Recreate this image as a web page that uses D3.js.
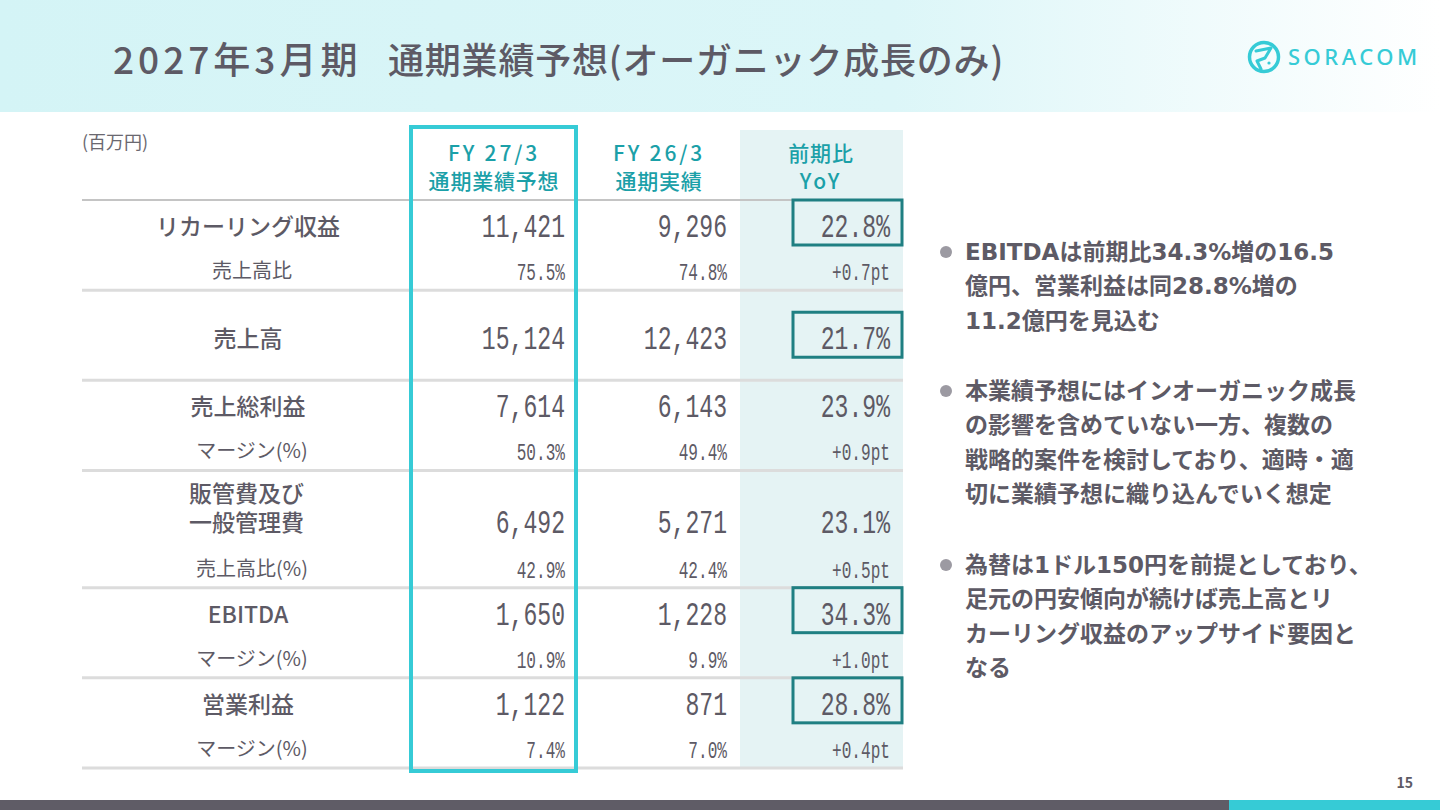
<!DOCTYPE html>
<html lang="ja">
<head>
<meta charset="utf-8">
<title>2027年3月期 通期業績予想</title>
<script src="https://cdn.jsdelivr.net/npm/d3@7"></script>
<style>
  body { margin: 0; background: #fff; }
  svg { display: block; }
  .jp { font-family: "Noto Sans CJK JP", "Noto Sans", sans-serif; }
  .mix { font-family: "DejaVu Sans", "Noto Sans CJK JP", sans-serif; }
  .num { font-family: "Liberation Mono", "DejaVu Sans Mono", monospace; }
</style>
</head>
<body>
<div id="wrapper"></div>
<script>
// table data
const rowLabels = [["リカーリング収益"], ["売上高"], ["売上総利益"], ["販管費及び", "一般管理費"], ["EBITDA"], ["営業利益"]];
const subLabels = ["売上高比", null, "マージン(%)", "売上高比(%)", "マージン(%)", "マージン(%)"];
const fy27 = [11421, 15124, 7614, 6492, 1650, 1122];
const fy26 = [9296, 12423, 6143, 5271, 1228, 871];
const yoy = [22.8, 21.7, 23.9, 23.1, 34.3, 28.8];
const fy27Ratio = [75.5, null, 50.3, 42.9, 10.9, 7.4];
const fy26Ratio = [74.8, null, 49.4, 42.4, 9.9, 7.0];
const ratioDiff = [0.7, null, 0.9, 0.5, 1.0, 0.4];
const highlighted = [true, true, false, false, true, true];

const columnHeaders = [["FY 27/3", "通期業績予想"], ["FY 26/3", "通期実績"], ["前期比", "YoY"]];

const bullets = [
    ["EBITDAは前期比34.3%増の16.5", "億円、営業利益は同28.8%増の", "11.2億円を見込む"],
    ["本業績予想にはインオーガニック成長", "の影響を含めていない一方、複数の", "戦略的案件を検討しており、適時・適", "切に業績予想に織り込んでいく想定"],
    ["為替は1ドル150円を前提としており、", "足元の円安傾向が続けば売上高とリ", "カーリング収益のアップサイド要因と", "なる"]
];

const titleLead = "2027年3月期";
const titleMain = "通期業績予想(オーガニック成長のみ)";

// layout
const width = 1440, height = 810;
const grey = "#5d5a65";
const teal = "#1ba0a8";
const cyan = "#36cbd6";
const rowSpan = [1, 1, 1, 1.3, 1, 1]; // the SG&A row holds a two-line label

const svg = d3.select("#wrapper").append("svg")
    .attr("width", width)
    .attr("height", height);

// header band
const defs = svg.append("defs");
const grad = defs.append("linearGradient").attr("id", "band");
grad.append("stop").attr("offset", "0%").attr("stop-color", "#d4f4f6");
grad.append("stop").attr("offset", "62%").attr("stop-color", "#dcf6f8");
grad.append("stop").attr("offset", "100%").attr("stop-color", "#ffffff");
svg.append("rect").attr("width", width).attr("height", 112).attr("fill", "url(#band)");

svg.append("text")
    .attr("class", "jp")
    .attr("x", 113).attr("y", 74)
    .attr("font-size", 37).attr("font-weight", 500)
    .attr("letter-spacing", 4)
    .attr("fill", grey)
    .text(titleLead);
svg.append("text")
    .attr("class", "jp")
    .attr("x", 388).attr("y", 74)
    .attr("font-size", 36).attr("font-weight", 500)
    .attr("letter-spacing", 0.8)
    .attr("fill", grey)
    .text(titleMain);

// logo
const logo = svg.append("g").attr("transform", "translate(1264,57)");
logo.append("circle").attr("r", 14.5).attr("fill", "none").attr("stroke", cyan).attr("stroke-width", 3.5);
logo.append("path")
    .attr("d", "M-8,-6 L7,-9 L1,1 L-7,4 L-3,12")
    .attr("fill", "none").attr("stroke", cyan).attr("stroke-width", 3)
    .attr("stroke-linejoin", "round").attr("stroke-linecap", "round");
logo.append("circle").attr("cx", 5).attr("cy", 6).attr("r", 1.6).attr("fill", cyan);
svg.append("text")
    .attr("x", 1288).attr("y", 65)
    .attr("font-family", "Noto Sans").attr("font-size", 22).attr("font-weight", 500)
    .attr("letter-spacing", 3.5)
    .attr("fill", cyan)
    .text("SORACOM");

// table scales
const colX = d3.scaleOrdinal().domain([0, 1, 2]).range([565, 727, 890]);
const colMid = d3.scaleOrdinal().domain([0, 1, 2]).range([494, 659, 821]);
const cum = [0];
rowSpan.forEach((s, i) => cum.push(cum[i] + s));
const yRow = d3.scaleLinear().domain([0, d3.sum(rowSpan)]).range([200, 768]);

const table = svg.append("g");

// YoY column background
table.append("rect")
    .attr("x", 740).attr("y", 130)
    .attr("width", 163).attr("height", 638)
    .attr("fill", "#e5f3f4");

table.append("text")
    .attr("class", "jp")
    .attr("x", 82).attr("y", 149)
    .attr("font-size", 18).attr("fill", "#6a6870")
    .text("(百万円)");

// column headers
columnHeaders.forEach((lines, c) => {
    lines.forEach((t, k) => {
        table.append("text")
            .attr("class", "jp")
            .attr("x", colMid(c)).attr("y", 161 + k * 28)
            .attr("text-anchor", "middle")
            .attr("font-size", 21).attr("font-weight", 500)
            .attr("letter-spacing", /[A-Za-z]/.test(t) ? 2.8 : 0.8)
            .attr("fill", teal)
            .text(t);
    });
});

// row rules
table.selectAll("line.rule")
    .data(cum)
    .join("line")
    .attr("class", "rule")
    .attr("x1", 82).attr("x2", 903)
    .attr("y1", d => yRow(d)).attr("y2", d => yRow(d))
    .attr("stroke", (d, i) => i === 0 ? "#c4c4c4" : "#dcdcdc")
    .attr("stroke-width", (d, i) => i === 0 ? 2 : 3);

function numText(g, x, y, size, txt) {
    g.append("g")
        .attr("transform", `translate(${x},${y}) scale(0.7,1)`)
        .append("text")
        .attr("class", "num")
        .attr("text-anchor", "end")
        .attr("font-size", size)
        .attr("fill", grey)
        .text(txt);
}

const fmtInt = d3.format(",");
const fmtPct = d => d3.format(".1f")(d) + "%";
const fmtPt = d => "+" + d3.format(".1f")(d) + "pt";

rowLabels.forEach((label, i) => {
    const top = yRow(cum[i]);
    const bottom = yRow(cum[i + 1]);
    const hasSub = subLabels[i] !== null;
    const mainY = hasSub ? top + (label.length > 1 ? 63 : 37) : (top + bottom) / 2 + 14;
    const subY = bottom - 10;
    const g = table.append("g");

    if (label.length > 1) {
        // two-line label kept in one text element
        const t2 = g.append("text")
            .attr("class", "jp")
            .attr("font-size", 23).attr("font-weight", 500)
            .attr("fill", grey);
        label.forEach((t, k) => {
            t2.append("tspan")
                .attr("x", 189).attr("y", mainY - 31 + k * 29)
                .text(t);
        });
    } else {
        g.append("text")
            .attr("class", "jp")
            .attr("x", 248).attr("y", mainY - 2)
            .attr("text-anchor", "middle")
            .attr("font-size", 23).attr("font-weight", 500)
            .attr("fill", grey)
            .text(label[0]);
    }

    numText(g, colX(0), mainY, 33, fmtInt(fy27[i]));
    numText(g, colX(1), mainY, 33, fmtInt(fy26[i]));
    numText(g, colX(2), mainY, 33, fmtPct(yoy[i]));

    if (highlighted[i]) {
        g.append("rect")
            .attr("x", 793).attr("y", mainY - 37)
            .attr("width", 109).attr("height", 45)
            .attr("fill", "none")
            .attr("stroke", "#1f7f82").attr("stroke-width", 3);
    }

    if (hasSub) {
        g.append("text")
            .attr("class", "jp")
            .attr("x", 252).attr("y", subY - 2)
            .attr("text-anchor", "middle")
            .attr("font-size", 20)
            .attr("fill", grey)
            .text(subLabels[i]);
        numText(g, colX(0), subY, 23, fmtPct(fy27Ratio[i]));
        numText(g, colX(1), subY, 23, fmtPct(fy26Ratio[i]));
        numText(g, colX(2), subY, 23, fmtPt(ratioDiff[i]));
    }
});

// forecast column frame
table.append("rect")
    .attr("x", 411).attr("y", 127)
    .attr("width", 165).attr("height", 644)
    .attr("fill", "none")
    .attr("stroke", cyan).attr("stroke-width", 4);

// bullet notes
const notes = svg.append("g");
const groupTop = [260, 399, 573];
bullets.forEach((lines, b) => {
    notes.append("circle")
        .attr("cx", 946).attr("cy", groupTop[b] - 8)
        .attr("r", 6).attr("fill", "#9c9aa2");
    lines.forEach((t, k) => {
        notes.append("text")
            .attr("class", "mix")
            .attr("x", 965).attr("y", groupTop[b] + k * 34.3)
            .attr("font-size", 23).attr("font-weight", 700)
            .attr("fill", grey)
            .text(t);
    });
});

// footer
svg.append("text")
    .attr("class", "jp")
    .attr("x", 1413).attr("y", 788)
    .attr("text-anchor", "end")
    .attr("font-size", 14).attr("font-weight", 700)
    .attr("fill", grey)
    .text("15");
svg.append("rect").attr("x", 0).attr("y", 800).attr("width", 1229).attr("height", 10).attr("fill", "#5f5c66");
svg.append("rect").attr("x", 1229).attr("y", 800).attr("width", 211).attr("height", 10).attr("fill", cyan);
</script>
</body>
</html>
